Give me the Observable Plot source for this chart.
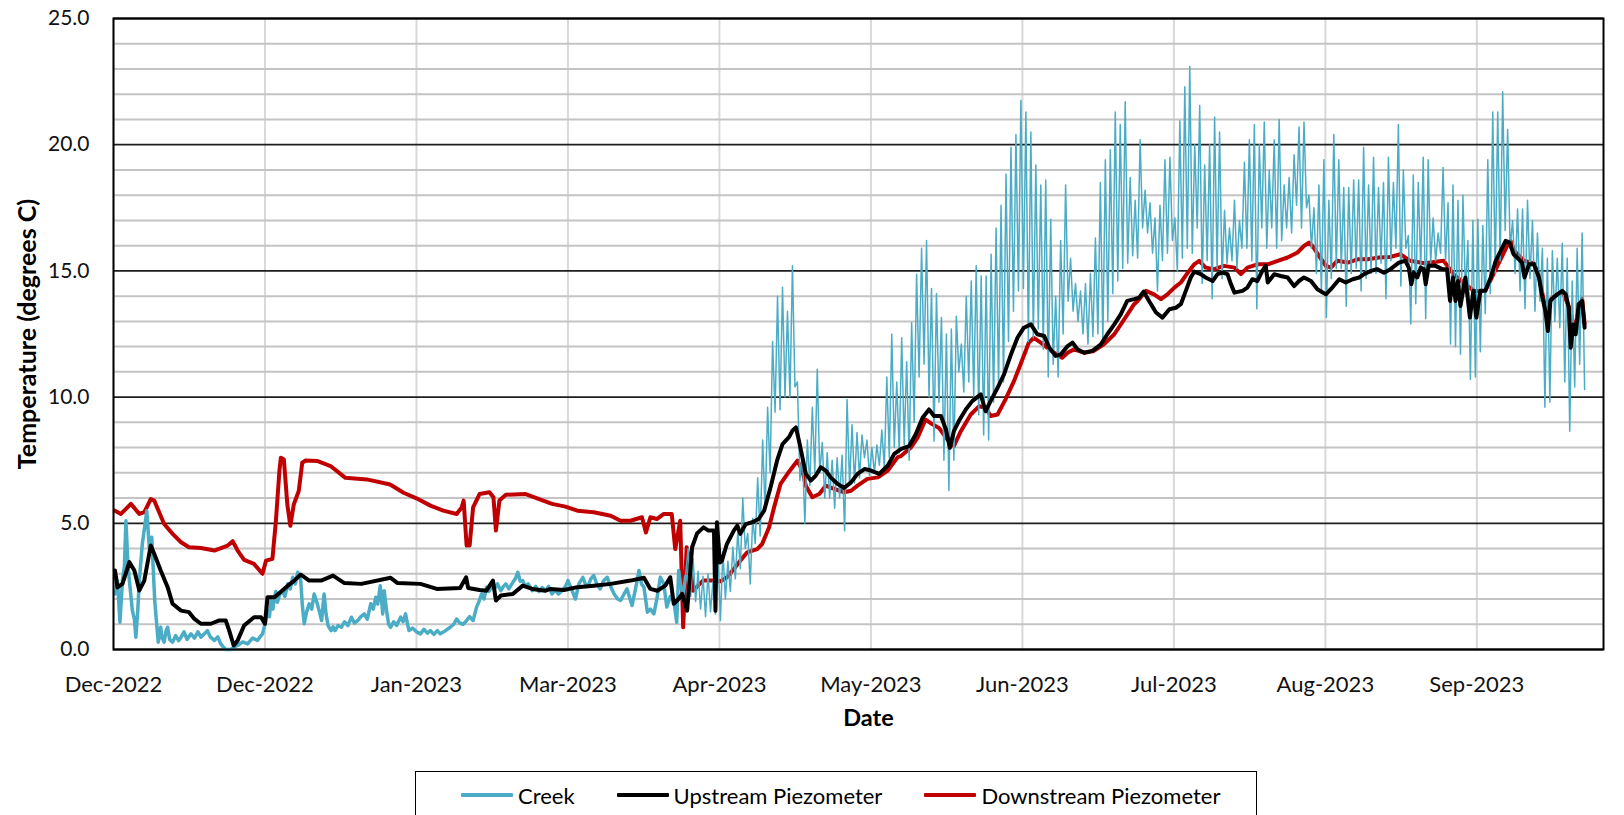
<!DOCTYPE html>
<html>
<head>
<meta charset="utf-8">
<script src="https://cdn.jsdelivr.net/npm/d3@7"></script>
<script src="https://cdn.jsdelivr.net/npm/@observablehq/plot@0.6"></script>
<style>
  body { margin: 0; background: #fff; font-family: Lato, "Open Sans", sans-serif; }
  #wrap { position: relative; width: 1624px; height: 815px; overflow: hidden; }
  #legend { position: absolute; left: 415px; top: 771px; width: 842px; height: 50px;
            border: 1px solid #000; box-sizing: border-box; display: flex; align-items: center;
            padding-left: 45px; gap: 42px; padding-bottom: 2px; }
  .item { display: flex; align-items: center; font-size: 22px; color: #000; }
  .sw { display: inline-block; width: 52px; height: 4px; margin-right: 5px; border-radius: 1px; }
</style>
</head>
<body>
<div id="wrap"><div id="chart"></div><div id="legend"></div></div>
<script>
// ---------------- data ----------------
const tickLabels = ["Dec-2022","Dec-2022","Jan-2023","Mar-2023","Apr-2023","May-2023","Jun-2023","Jul-2023","Aug-2023","Sep-2023"];
const tickStep = 30.5;        // days between labelled ticks
const yTicks = [0, 5, 10, 15, 20, 25];
const yMinor = [1,2,3,4,6,7,8,9,11,12,13,14,16,17,18,19,21,22,23,24];

const seriesNames = ["Creek", "Upstream Piezometer", "Downstream Piezometer"];
const seriesColors = ["#4BACC6", "#000000", "#C00000"];

// Creek, winter logger (days since start, degrees C)
const creekWinterDays = [0.3,0.8,1.3,1.8,2.2,2.5,2.9,3.2,3.8,4.2,4.5,4.9,5.2,5.8,6.3,6.7,7.2,7.7,8.0,8.3,8.7,9.0,9.5,9.8,10.2,10.6,10.9,11.3,11.9,12.5,13.1,13.6,14.2,14.8,15.6,16.3,17.0,17.6,18.3,18.9,19.5,20.3,21.0,21.6,22.1,22.6,23.6,24.3,25.0,26.0,27.0,28.0,29.0,29.5,30.0,30.5,31.0,31.4,31.7,32.1,32.4,32.7,33.0,33.5,34.0,34.5,35.1,35.6,36.1,36.6,37.1,37.7,38.0,38.4,38.9,39.4,39.9,40.4,40.9,41.4,41.9,42.4,42.8,43.2,43.8,44.2,44.6,45.2,45.9,46.5,47.2,47.9,48.5,49.2,49.8,50.5,51.1,51.8,52.3,52.8,53.2,53.7,54.0,54.2,54.5,55.0,55.4,55.8,56.4,57.0,57.8,58.3,58.8,59.2,59.5,60.2,61.0,61.8,62.5,63.2,63.8,64.5,65.2,65.8,66.5,67.2,67.8,68.5,69.1,69.7,70.4,71.1,71.7,72.4,73.1,73.6,74.1,74.6,75.1,75.6,76.2,76.7,77.3,78.0,78.5,79.0,79.6,80.4,80.9,81.4,81.9,82.4,82.9,83.5,84.3,85.0,85.7,86.3,87.0,87.6,88.3,88.9,89.6,90.3,91.0,91.5,92.2,93.0,93.7,94.5,95.0,95.5,96.1,96.7,97.3,98.0,98.6,99.4,100.1,100.8,101.5,102.1,102.8,103.4,104.0,104.4,105.1,105.8,106.3,106.8,107.5,108.1,108.8,109.4,110.1,110.8,111.4,112.1,112.8,113.4,113.8,114.2,114.7,115.2];
const creekWinterTemps = [2.2,2.73,1.08,2.73,3.3,5.1,3.4,2.73,1.54,1.2,0.49,1.6,2.73,4.18,4.9,5.5,4.05,4.45,3.2,1.94,1.0,0.29,0.88,0.45,0.29,0.75,0.88,0.4,0.29,0.55,0.35,0.49,0.7,0.4,0.62,0.45,0.7,0.49,0.62,0.75,0.5,0.36,0.5,0.22,0.1,0.0,0.0,0.1,0.16,0.3,0.22,0.45,0.36,0.5,0.62,1.0,1.54,1.3,1.94,1.6,2.07,2.3,1.87,2.2,2.34,2.1,2.6,2.4,2.86,2.6,3.06,2.73,1.8,1.02,1.5,1.81,1.6,2.2,1.9,1.54,1.15,2.2,1.4,0.95,0.75,0.9,0.75,0.95,0.88,1.1,0.95,1.28,1.05,1.15,1.3,1.41,1.2,1.81,1.6,2.07,1.8,2.53,1.9,1.41,2.33,1.5,1.0,0.88,1.1,0.95,1.28,1.1,1.41,1.0,0.75,0.85,0.7,0.62,0.8,0.65,0.75,0.6,0.75,0.62,0.7,0.8,0.88,1.0,1.21,1.05,1.0,1.15,1.3,1.15,1.68,1.9,2.2,2.0,2.47,2.3,2.5,2.4,2.6,2.33,2.5,2.6,2.4,2.66,2.8,3.06,2.7,2.73,2.5,2.6,2.33,2.5,2.3,2.45,2.33,2.5,2.2,2.35,2.2,2.33,2.5,2.73,2.4,2.0,2.6,2.86,2.6,2.5,2.8,2.93,2.6,2.4,2.7,2.86,2.5,2.2,2.0,1.94,2.2,2.4,2.0,1.74,2.4,3.13,2.6,2.47,1.48,1.6,1.41,2.0,2.86,2.6,1.68,2.1,1.94,1.08,3.13,2.5,2.2,2.9];

// Creek, summer logger: daily minimum (at day 115.2 + k) and maximum (at day 115.7 + k)
const creekSummerStart = 115.2;
const creekLo = [2.9,2.1,1.9,1.6,1.3,1.5,1.4,1.15,2.0,2.3,2.8,3.2,4.0,2.6,4.2,4.5,5.5,7.0,9.4,9.5,
  10.0,10.0,10.4,6.7,5.0,6.5,7.0,7.0,6.0,6.0,5.6,6.0,4.7,6.5,6.6,6.8,7.6,6.9,7.0,7.3,
  7.2,7.6,8.0,7.8,8.1,7.5,9.0,10.8,11.3,10.0,8.25,9.8,7.5,6.3,7.5,11.0,10.2,10.6,10.0,9.3,
  8.5,8.3,9.8,10.5,10.6,12.2,13.4,14.2,14.3,12.2,12.35,12.7,11.9,10.8,11.3,10.8,12.5,13.8,13.4,13.0,
  12.5,12.1,12.4,12.5,12.1,13.0,14.1,14.6,15.1,15.3,15.6,15.5,16.7,16.5,15.7,14.2,15.4,15.7,16.2,15.0,
  15.5,15.9,15.7,16.7,14.5,15.4,13.9,15.1,14.7,15.3,15.4,15.1,15.9,15.9,15.4,13.5,16.7,15.9,16.7,15.9,
  16.2,16.7,16.5,17.6,16.7,17.5,15.9,14.9,14.1,13.15,14.7,15.1,15.1,13.6,14.9,15.1,14.2,14.7,14.9,14.9,
  15.3,13.9,15.4,15.9,14.4,15.9,12.9,13.7,15.1,13.1,15.3,15.4,15.7,15.4,12.1,12.0,11.7,14.1,10.7,10.8,
  11.8,13.3,14.1,14.9,15.4,16.6,15.9,14.9,14.2,13.5,14.7,13.4,13.8,9.6,9.8,13.0,12.75,10.6,8.65,10.4,
  11.3,10.3];
const creekHi = [4.0,3.6,3.1,2.9,3.0,2.7,3.8,3.9,3.5,4.05,4.7,6.0,4.6,5.2,6.8,8.3,9.6,12.2,14.0,14.35,
  13.4,15.2,10.6,7.8,8.3,9.6,11.1,8.2,7.8,7.5,7.6,7.7,9.9,8.9,8.6,8.5,8.3,8.0,8.1,8.7,
  10.8,12.5,10.6,12.35,11.4,12.95,14.87,15.9,16.2,14.3,14.1,13.15,12.5,12.7,13.2,12.1,14.0,14.6,15.2,14.8,
  14.8,15.66,16.7,17.6,18.84,19.9,20.4,21.75,21.3,20.5,19.2,18.4,18.6,17.05,14.0,16.2,18.4,15.5,14.5,14.2,
  14.5,14.9,16.3,18.5,19.4,19.8,21.3,20.8,21.7,18.7,17.8,20.2,18.2,17.7,17.1,17.6,19.4,19.5,17.1,20.95,
  22.3,23.1,20.0,21.55,19.2,20.0,21.1,20.5,17.4,16.7,17.8,17.0,19.3,20.2,20.8,20.0,20.9,19.0,20.2,21.0,
  18.4,18.7,19.6,20.7,20.9,18.0,17.5,18.4,19.4,17.8,20.4,19.4,18.3,18.3,18.6,18.6,19.9,18.4,19.5,18.3,
  18.5,19.5,18.5,20.8,19.0,16.4,18.8,18.5,19.5,19.4,17.1,16.5,19.1,17.7,18.4,17.8,18.0,16.2,17.0,17.05,
  16.8,19.4,21.3,21.3,22.1,20.6,17.0,17.45,17.45,17.8,17.0,16.5,15.9,15.5,15.8,15.5,16.1,15.5,14.6,15.9,
  16.5];

// Upstream piezometer
const upDays = [0.3,0.8,1.8,3.2,4.2,5.2,6.2,7.5,8.2,9.5,10.9,11.9,13.6,15.2,16.3,17.6,19.6,21.3,22.6,23.3,24.2,25.0,26.3,28.3,29.7,30.5,31.0,32.4,34.0,35.1,36.4,37.7,39.4,41.8,44.2,46.5,49.9,55.8,57.2,61.8,65.1,69.8,71.0,71.4,73.7,75.1,76.4,77.0,78.0,80.4,82.4,84.3,87.0,88.0,90.7,93.4,96.7,100.1,104.1,106.8,108.1,109.5,111.1,112.1,112.8,113.8,114.5,115.5,116.5,117.5,118.8,119.8,120.9,121.2,121.5,122.1,122.5,123.5,124.9,125.6,126.2,127.3,128.6,129.9,131.0,132.3,133.6,134.7,136.0,136.7,137.4,138.0,138.7,139.4,140.4,141.4,142.4,143.4,144.4,145.8,147.1,148.5,149.8,151.2,152.5,154.2,155.9,157.2,158.6,160.2,161.5,162.9,164.2,165.2,166.6,167.6,168.4,169.2,170.2,171.6,172.9,174.6,175.6,176.6,178.0,179.3,180.7,182.0,183.3,184.7,186.0,187.4,188.4,189.7,190.7,192.1,193.1,194.1,195.4,197.1,198.8,200.1,201.5,202.8,204.1,205.5,206.5,207.4,208.5,209.9,211.2,212.6,213.9,214.9,215.9,216.9,217.6,218.9,219.9,221.3,222.3,223.3,224.3,225.0,225.7,227.3,228.3,229.3,230.3,231.3,232.0,232.4,233.7,235.0,236.4,237.7,238.7,239.7,241.1,242.4,244.1,245.4,246.8,248.1,249.5,250.8,251.8,253.2,254.4,255.8,257.1,258.8,260.1,260.8,261.3,261.8,262.5,263.2,263.8,264.2,264.8,266.2,267.5,268.5,269.1,269.7,270.2,270.7,271.2,272.2,273.1,273.8,274.4,275.2,276.2,277.3,278.3,279.3,280.3,281.1,281.9,282.6,283.6,284.1,285.0,286.0,287.0,287.7,288.3,288.8,289.3,289.9,290.7,291.7,292.4,293.0,293.4,293.9,294.4,295.0,295.7,296.2];
const upTemps = [3.13,2.46,2.6,3.46,3.13,2.34,2.73,4.12,3.79,3.13,2.47,1.81,1.54,1.48,1.21,1.02,1.02,1.15,1.15,0.75,0.16,0.36,0.95,1.28,1.28,1.02,2.07,2.07,2.34,2.53,2.73,2.97,2.73,2.73,2.93,2.63,2.6,2.84,2.63,2.6,2.4,2.44,2.86,2.44,2.36,2.33,2.73,1.94,2.14,2.2,2.53,2.4,2.33,2.4,2.36,2.47,2.53,2.6,2.73,2.84,2.4,2.33,2.53,2.86,1.81,2.01,2.2,1.54,4.05,4.6,4.84,4.71,4.71,1.54,5.04,3.45,3.52,4.18,4.71,4.91,4.58,4.97,5.04,5.17,5.5,6.43,7.48,8.14,8.41,8.67,8.8,8.28,7.62,6.96,6.69,6.89,7.22,7.09,6.82,6.56,6.4,6.62,6.96,7.15,7.09,6.96,7.29,7.75,7.95,8.06,8.52,9.18,9.51,9.25,9.25,8.72,7.99,8.65,9.05,9.51,9.84,10.11,9.44,9.84,10.37,10.9,11.69,12.35,12.75,12.88,12.49,12.42,11.96,11.63,11.69,12.02,12.16,11.89,11.76,11.83,12.09,12.49,12.88,13.28,13.81,13.88,13.94,14.18,13.81,13.35,13.15,13.48,13.54,13.68,14.21,14.74,14.97,14.87,14.74,14.6,14.87,14.93,14.87,14.47,14.14,14.21,14.34,14.67,14.6,15.0,15.2,14.54,14.87,14.8,14.74,14.4,14.6,14.74,14.6,14.27,14.07,14.34,14.67,14.54,14.67,14.74,14.87,15.0,15.07,14.93,15.07,15.33,15.4,15.13,14.47,14.93,14.74,15.13,15.07,14.47,15.2,15.2,15.07,15.07,13.81,14.74,13.81,14.6,13.61,14.74,13.15,14.21,13.15,14.21,14.21,14.74,15.4,15.79,16.19,16.12,15.66,15.53,15.33,14.74,15.26,15.26,14.74,13.94,13.41,12.62,13.81,13.94,14.07,14.21,14.07,13.54,11.96,12.88,12.49,13.68,13.81,12.75];

// Downstream piezometer
const downDays = [0.3,1.5,3.5,5.2,6.2,7.5,8.2,10.2,11.9,13.6,15.2,17.6,20.3,23.0,24.0,25.0,26.3,28.3,30.0,30.7,32.0,32.7,33.4,33.7,34.3,35.0,35.6,36.3,37.3,38.0,38.7,41.0,43.7,46.7,51.0,55.7,58.4,61.0,63.8,66.4,69.1,70.1,70.5,71.1,71.7,72.4,73.7,75.7,76.5,77.0,77.7,79.0,83.0,85.7,88.3,91.0,93.4,96.7,100.1,102.1,104.1,106.4,107.2,108.1,109.4,110.8,112.4,113.1,114.1,114.7,115.4,116.0,116.7,117.4,118.7,120.7,122.2,123.5,124.9,126.2,127.6,129.6,130.6,132.0,133.0,134.3,135.7,136.7,137.7,138.7,139.4,140.7,142.1,143.4,145.1,147.1,148.5,149.8,151.8,153.9,155.9,157.9,158.5,160.5,161.9,163.5,164.9,166.2,167.9,169.2,170.6,172.6,174.3,175.6,176.6,178.0,179.6,181.3,183.0,184.3,185.3,186.7,188.0,189.4,191.0,192.1,193.4,195.4,197.4,199.4,201.5,203.5,205.5,206.2,207.9,209.5,210.9,212.2,213.6,214.9,216.3,217.6,218.6,219.9,221.6,223.6,225.7,227.0,228.3,230.3,232.4,234.4,236.4,238.4,239.7,240.7,241.4,242.7,244.1,245.1,246.4,248.5,250.5,252.5,254.8,257.0,259.1,261.1,264.0,267.8,269.8,272.0,274.0,276.2,280.6,281.3,282.0,284.0,286.0,287.0,288.3,289.5,291.7,293.0,294.4,295.7,296.2];
const downTemps = [5.5,5.37,5.77,5.37,5.44,5.96,5.9,4.97,4.58,4.25,4.05,4.02,3.92,4.12,4.29,3.92,3.55,3.39,3.0,3.52,3.59,5.1,7.07,7.6,7.53,5.75,4.9,5.75,6.28,7.4,7.49,7.47,7.27,6.8,6.74,6.54,6.21,5.99,5.7,5.5,5.37,5.63,5.9,4.12,4.12,5.63,6.16,6.23,6.03,4.71,5.9,6.13,6.16,5.96,5.77,5.66,5.5,5.44,5.3,5.1,5.1,5.24,4.64,5.24,5.17,5.37,5.37,3.98,5.1,0.88,4.05,3.52,2.33,2.47,2.73,2.73,2.7,2.86,3.19,3.52,3.85,3.98,4.18,4.84,5.63,6.56,6.96,7.22,7.48,7.09,6.49,6.03,6.16,6.49,6.36,6.23,6.29,6.49,6.76,6.82,7.09,7.62,7.66,7.99,8.39,9.11,8.92,8.78,8.32,8.06,8.65,9.31,9.64,9.58,9.25,9.31,9.91,10.63,11.49,12.16,12.35,12.16,11.96,11.76,11.56,11.76,11.89,11.76,11.83,12.09,12.49,13.08,13.68,13.81,14.21,14.07,13.88,14.07,14.34,14.54,14.93,15.26,15.4,15.13,15.07,15.2,15.13,14.87,15.13,15.26,15.26,15.4,15.53,15.73,15.99,16.12,15.99,15.6,15.2,15.13,15.4,15.33,15.46,15.46,15.53,15.55,15.66,15.4,15.3,15.4,14.87,14.5,14.2,14.21,15.99,16.19,15.8,15.4,15.3,14.8,13.5,13.9,14.2,13.6,12.6,13.9,12.9];

// ---------------- build tables ----------------
const zip = (days, temps) => days.map((d, i) => ({day: d, temp: temps[i]}));
const creekWinter = zip(creekWinterDays, creekWinterTemps);
const creekSummer = [];
creekLo.forEach((v, k) => {
  creekSummer.push({day: creekSummerStart + k, temp: v});
  if (k < creekHi.length) creekSummer.push({day: creekSummerStart + k + 0.5, temp: creekHi[k]});
});
const upstream = zip(upDays, upTemps);
const downstream = zip(downDays, downTemps);
const xTicks = tickLabels.map((_, i) => i * tickStep);

const chart = Plot.plot({
  width: 1624,
  height: 760,
  marginLeft: 113,
  marginRight: 21,
  marginTop: 18,
  marginBottom: 111,
  style: {fontFamily: "Lato, 'Open Sans', sans-serif", fontSize: "22px", color: "#111", background: "#fff"},
  x: {domain: [0, 300]},
  y: {domain: [0, 25]},
  marks: [
    Plot.ruleX(xTicks, {stroke: "#d9d9d9", strokeWidth: 2}),
    Plot.ruleY(yMinor, {stroke: "#c4c4c4", strokeWidth: 2}),
    Plot.ruleY(yTicks, {stroke: "#1e1e1e", strokeWidth: 1.8}),
    Plot.line(downstream, {x: "day", y: "temp", stroke: seriesColors[2], strokeWidth: 4}),
    Plot.line(creekWinter, {x: "day", y: "temp", stroke: seriesColors[0], strokeWidth: 3.5}),
    Plot.line(creekSummer, {x: "day", y: "temp", stroke: seriesColors[0], strokeWidth: 1.5}),
    Plot.line(upstream, {x: "day", y: "temp", stroke: seriesColors[1], strokeWidth: 4}),
    Plot.frame({stroke: "#000", strokeWidth: 2}),
    Plot.axisX(xTicks, {tickFormat: d => tickLabels[Math.round(d / tickStep)], tickSize: 0, tickPadding: 27, label: null, fontSize: 22}),
    Plot.axisY(yTicks, {tickFormat: d3.format(".1f"), tickSize: 0, tickPadding: 24, label: null, fontSize: 21}),
    Plot.text(["Date"], {text: d => d, frameAnchor: "bottom", dy: 76, dx: 10, fontWeight: "bold", fontSize: 23.5, fill: "#000"}),
    Plot.text(["Temperature (degrees C)"], {text: d => d, frameAnchor: "left", textAnchor: "middle", rotate: -90, dx: -86, dy: 0, fontWeight: "bold", fontSize: 25, fill: "#000"})
  ]
});
document.getElementById("chart").appendChild(chart);

// ---------------- legend ----------------
const legend = document.getElementById("legend");
seriesNames.forEach((name, i) => {
  const item = document.createElement("div");
  item.className = "item";
  const sw = document.createElement("span");
  sw.className = "sw";
  sw.style.background = seriesColors[i];
  item.appendChild(sw);
  item.appendChild(document.createTextNode(name));
  legend.appendChild(item);
});
</script>
</body>
</html>
